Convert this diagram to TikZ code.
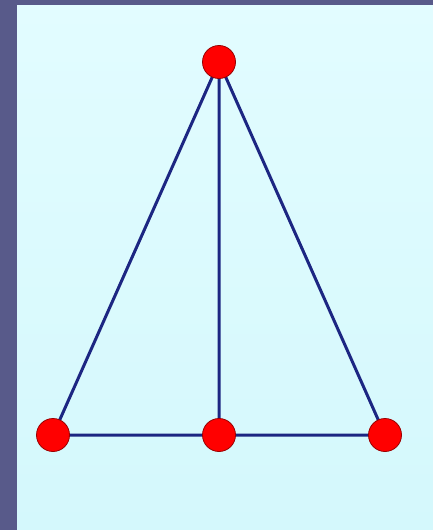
\documentclass[tikz,border=0pt]{standalone}
\usetikzlibrary{backgrounds}
\begin{document}
\begin{tikzpicture}[x=1pt,y=-1pt,
  vertex/.style={circle,draw=red!60!black,line width=0.8pt,fill=red,minimum size=33pt,inner sep=0pt},
  edge/.style={draw={rgb,255:red,28;green,38;blue,130},line width=3pt}]
\definecolor{frame}{RGB}{88,90,138}
\definecolor{panelA}{RGB}{226,252,255}
\definecolor{panelB}{RGB}{212,248,252}
\useasboundingbox (0,0) rectangle (433,530);
\node[vertex] (t) at (219,62) {};
\node[vertex] (l) at (53,435) {};
\node[vertex] (m) at (219,435) {};
\node[vertex] (r) at (385,435) {};
\begin{scope}[on background layer]
\fill[frame] (0,0) rectangle (433,530);
\shade[top color=panelA,bottom color=panelB] (17,5) rectangle (433,530);
\path[edge] (t.center) -- (l.center) (t.center) -- (m.center) (t.center) -- (r.center) (l.center) -- (m.center) -- (r.center);
\end{scope}
\end{tikzpicture}
\end{document}
